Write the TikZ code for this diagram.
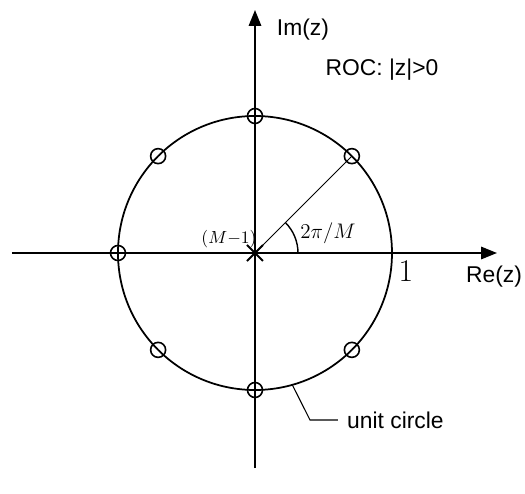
\documentclass[tikz,border=0pt]{standalone}
\usepackage{fontspec}
\setsansfont{Liberation Sans}
\usetikzlibrary{arrows.meta}
\tikzset{
  zero/.style={draw,circle,line width=.9pt,inner sep=0pt,minimum size=.3cm},
  lbl/.style={font=\sffamily\fontsize{13}{15}\selectfont},
}
\begin{document}
\begin{tikzpicture}[x=.02cm,y=.02cm,>={Triangle[length=.32cm,width=.25cm]}]
 \useasboundingbox (-255,-241) rectangle (270,253);
 \coordinate (O) at (0,0);
 % axes
 \coordinate (xl) at (-243,0); \coordinate (xr) at (242,0);
 \coordinate (yb) at (0,-215); \coordinate (yt) at (0,243);
 \draw[line width=1pt,->] (xl)--(xr);
 \draw[line width=1pt,->] (yb)--(yt);
 \node[lbl] (im) at (48,223) {Im(z)};
 \node[lbl] (re) at (239,-24) {Re(z)};
 \node[lbl] (roc) at (127,183) {ROC: |z|>0};
 % unit circle
 \draw[line width=1pt] (O) circle (137);
 \node[font=\fontsize{18}{20}\selectfont] (one) at (151,-18) {1};
 % zeros
 \foreach \k in {1,...,7}
  \node[zero] (z\k) at (45*\k:137) {};
 % pole of order M-1
 \draw[line width=1.1pt] (-8,-8)--(8,8) (-8,8)--(8,-8);
 \node[font=\fontsize{10}{12}\selectfont] (ord) at (-26,14) {\((M{-}1)\)};
 % angle
 \draw[line width=.6pt] (O)--(z1.center);
 \draw[line width=.8pt] (43,0) arc (0:45:43);
 \node[font=\fontsize{12.5}{14}\selectfont] (ang) at (73,20) {\(2\pi/M\)};
 % leader
 \coordinate (c1) at (-74.2:137);
 \coordinate (c2) at (55,-167);
 \coordinate (c3) at (83,-167);
 \draw[line width=.6pt] (c1)--(c2)--(c3);
 \node[lbl,anchor=west] (uc) at (86,-167) {unit circle};
\end{tikzpicture}
\end{document}
